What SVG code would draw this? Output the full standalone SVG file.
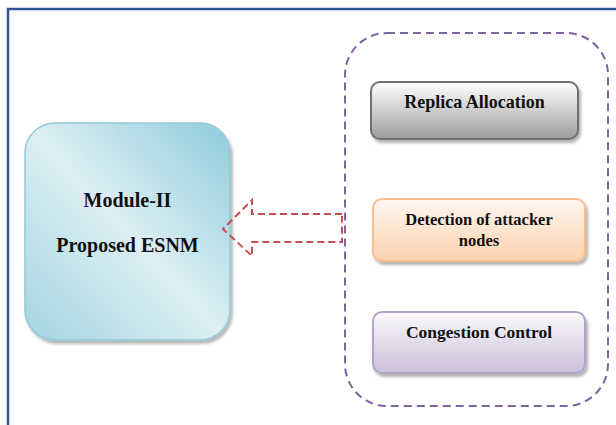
<svg xmlns="http://www.w3.org/2000/svg" width="616" height="425" viewBox="0 0 616 425">
<defs>
<linearGradient id="gBlue" x1="1" y1="0" x2="0" y2="1">
<stop offset="0" stop-color="#8FCBDB"/>
<stop offset="0.5" stop-color="#DCEFF4"/>
<stop offset="1" stop-color="#A3D4E1"/>
</linearGradient>
<linearGradient id="gGrey" x1="0" y1="0" x2="0" y2="1">
<stop offset="0" stop-color="#FFFFFF"/>
<stop offset="1" stop-color="#9C9C9C"/>
</linearGradient>
<linearGradient id="gPeach" x1="0" y1="0" x2="0" y2="1">
<stop offset="0" stop-color="#FFF6F0"/>
<stop offset="1" stop-color="#FBD2AE"/>
</linearGradient>
<linearGradient id="gLav" x1="0" y1="0" x2="0" y2="1">
<stop offset="0" stop-color="#FBFAFC"/>
<stop offset="1" stop-color="#CBBFDA"/>
</linearGradient>
<filter id="sh" x="-10%" y="-10%" width="130%" height="130%">
<feDropShadow dx="2" dy="3" stdDeviation="1.5" flood-color="#000" flood-opacity="0.3"/>
</filter>
</defs>
<style>
.t{font-weight:bold;fill:#111;text-anchor:middle}
.box{stroke-width:2}
</style>
<rect width="616" height="425" fill="#fff"/>
<path d="M8,425 V9 H616" fill="none" stroke="#2F5597" stroke-width="2.5"/>
<g id="container">
<rect x="345" y="33" width="263" height="373" rx="42" fill="none" stroke="#8064A2" stroke-width="2" stroke-dasharray="8,5"/>
</g>
<g id="module">
<rect x="25" y="123" width="205" height="217" rx="30" fill="url(#gBlue)" stroke="#92C8D7" stroke-width="1.5" filter="url(#sh)"/>
<text class="t" font-family="'Liberation Serif', 'Times New Roman', serif" x="127.5" y="207" font-size="20">Module-II</text>
<text class="t" font-family="'Liberation Serif', 'Times New Roman', serif" x="127.5" y="252" font-size="20">Proposed ESNM</text>
</g>
<g id="replica">
<rect x="371" y="82" width="207" height="57" rx="9" fill="url(#gGrey)" stroke="#707070" class="box" filter="url(#sh)"/>
<text class="t" font-family="'Liberation Serif', 'Times New Roman', serif" x="474.5" y="108" font-size="18">Replica Allocation</text>
</g>
<g id="detection">
<rect x="373" y="199" width="212" height="62" rx="9" fill="url(#gPeach)" stroke="#F9BE8F" class="box" filter="url(#sh)"/>
<text class="t" font-family="'Liberation Serif', 'Times New Roman', serif" x="479" y="225" font-size="16.5">Detection of attacker</text>
<text class="t" font-family="'Liberation Serif', 'Times New Roman', serif" x="479" y="246" font-size="16.5">nodes</text>
</g>
<g id="congestion">
<rect x="373" y="312" width="212" height="61" rx="9" fill="url(#gLav)" stroke="#B3A2C7" class="box" filter="url(#sh)"/>
<text class="t" font-family="'Liberation Serif', 'Times New Roman', serif" x="479" y="338" font-size="17.5">Congestion Control</text>
</g>
<g id="connectors">
<path d="M342,214 H252 V200 L223,229 L252,256 V242 H342 Z" fill="none" stroke="#C0504D" stroke-width="2" stroke-dasharray="7,4" stroke-linejoin="miter"/>
</g>
</svg>
